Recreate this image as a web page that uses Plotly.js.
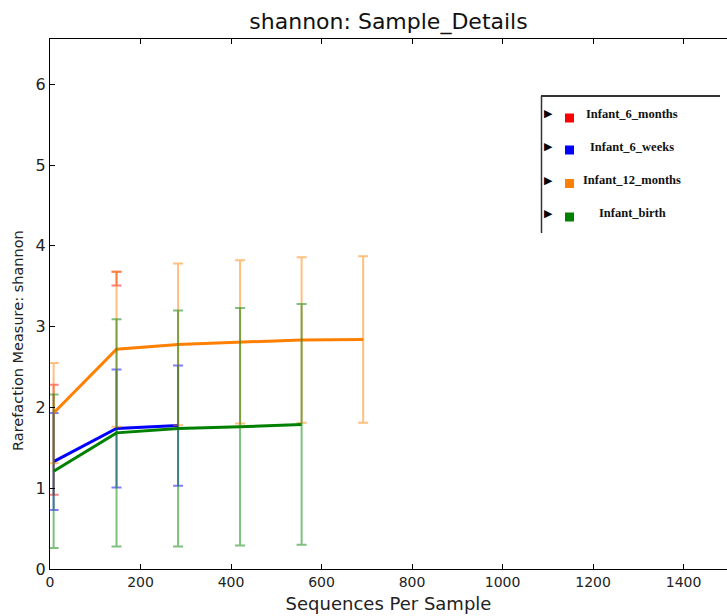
<!DOCTYPE html>
<html>
<head>
<meta charset="utf-8">
<script src="https://cdn.plot.ly/plotly-3.0.1.min.js"></script>
<style>html,body{margin:0;padding:0;background:#fff;}#chart{width:727px;height:616px;}</style>
</head>
<body>
<div id="chart"></div>
<script>
// ---- data ----
var seriesNames = ["Infant_6_months", "Infant_6_weeks", "Infant_12_months", "Infant_birth"];
var seriesColors = ["#ff0000", "#0000ff", "#ff7f00", "#008000"];
var errColors = ["rgba(255,0,0,0.5)", "rgba(0,0,255,0.5)", "rgba(255,127,0,0.5)", "rgba(0,128,0,0.5)"];

var depths6months = [8, 147];
var mean6months = [1.60, 3.595];
var err6months = [0.68, 0.085];

var depths6weeks = [8, 147, 283];
var mean6weeks = [1.33, 1.74, 1.775];
var err6weeks = [0.60, 0.73, 0.745];

var depths12months = [8, 147, 283, 420, 556, 692];
var mean12months = [1.93, 2.72, 2.78, 2.81, 2.835, 2.84];
var err12months = [0.62, 0.96, 1.00, 1.01, 1.025, 1.03];

var depthsBirth = [8, 147, 283, 420, 556];
var meanBirth = [1.21, 1.685, 1.74, 1.76, 1.79];
var errBirth = [0.95, 1.405, 1.46, 1.47, 1.49];

var xTicks = [0, 200, 400, 600, 800, 1000, 1200, 1400];
var yTicks = [0, 1, 2, 3, 4, 5, 6];

// ---- layout helpers ----
var W = 727, H = 616;
var mL = 50, mR = 0, mT = 39, mB = 47;
var pw = W - mL - mR, ph = H - mT - mB;
function px(x){ return (x - mL) / pw; }
function py(y){ return (H - mB - y) / ph; }

function mk(i, xs, ys, es, hideLine){
  return {
    type: "scatter", mode: "lines", name: seriesNames[i], showlegend: false,
    x: xs, y: ys,
    line: {color: hideLine ? "rgba(0,0,0,0)" : seriesColors[i], width: 3},
    error_y: {type: "data", array: es, visible: true, color: errColors[i], thickness: 2, width: 5},
    hoverinfo: "x+y"
  };
}

var traces = [
  mk(0, depths6months, mean6months, err6months, true),
  mk(1, depths6weeks, mean6weeks, err6weeks, false),
  mk(2, depths12months, mean12months, err12months, false),
  mk(3, depthsBirth, meanBirth, errBirth, false)
];

// legend box (custom, like the original HTML legend)
var shapes = [
  {type: "line", xref: "paper", yref: "paper", x0: px(541), x1: px(720), y0: py(96), y1: py(96), line: {color: "#333", width: 2}},
  {type: "line", xref: "paper", yref: "paper", x0: px(541.5), x1: px(541.5), y0: py(96), y1: py(233), line: {color: "#333", width: 1.5}}
];
var annotations = [];
var rowY = [114, 147, 180, 213];
var sqY = [118, 150, 183.5, 217];
for (var i = 0; i < seriesNames.length; i++) {
  shapes.push({type: "rect", xref: "paper", yref: "paper",
    x0: px(565), x1: px(574), y0: py(sqY[i] + 4.5), y1: py(sqY[i] - 4.5),
    fillcolor: seriesColors[i], line: {width: 0}});
  annotations.push({xref: "paper", yref: "paper", x: px(548.5), y: py(rowY[i]),
    text: "\u25B6", showarrow: false, xanchor: "center", yanchor: "middle",
    font: {family: "DejaVu Sans", size: 11, color: "#000"}});
  annotations.push({xref: "paper", yref: "paper", x: px(632), y: py(rowY[i]),
    text: "<b>" + seriesNames[i] + "</b>", showarrow: false, xanchor: "center", yanchor: "middle",
    font: {family: "Liberation Serif", size: 12.5, color: "#111"}});
}
// y-axis title, placed where the original draws it
annotations.push({xref: "paper", yref: "paper", x: px(18), y: py(341),
  text: "Rarefaction Measure: shannon", textangle: -90, showarrow: false,
  xanchor: "center", yanchor: "middle",
  font: {family: "DejaVu Sans", size: 14.5, color: "#222"}});

var layout = {
  width: W, height: H,
  margin: {l: mL, r: mR, t: mT, b: mB, pad: 0},
  paper_bgcolor: "#fff", plot_bgcolor: "#fff",
  showlegend: false,
  title: {text: "shannon: Sample_Details", x: 0.5, xref: "paper", xanchor: "center",
    y: 1 - 21 / H, yref: "container", yanchor: "middle",
    font: {family: "DejaVu Sans", size: 22, color: "#111"}},
  xaxis: {
    range: [0, 1496], tickvals: xTicks, ticktext: xTicks.map(String),
    ticks: "inside", ticklen: 5, tickcolor: "#000", tickwidth: 1,
    showline: true, linecolor: "#000", linewidth: 1, mirror: "ticks",
    showgrid: false, zeroline: false,
    tickfont: {family: "DejaVu Sans", size: 14, color: "#222"},
    title: {text: "Sequences Per Sample", standoff: 8, font: {family: "DejaVu Sans", size: 18, color: "#222"}}
  },
  yaxis: {
    range: [0, 6.56], tickvals: yTicks, ticktext: yTicks.map(String),
    ticks: "inside", ticklen: 5, tickcolor: "#000", tickwidth: 1,
    showline: true, linecolor: "#000", linewidth: 1, mirror: false,
    showgrid: false, zeroline: false,
    tickfont: {family: "DejaVu Sans", size: 16, color: "#222"}
  },
  shapes: shapes,
  annotations: annotations
};

Plotly.newPlot("chart", traces, layout, {displayModeBar: false, staticPlot: true});
</script>
</body>
</html>
